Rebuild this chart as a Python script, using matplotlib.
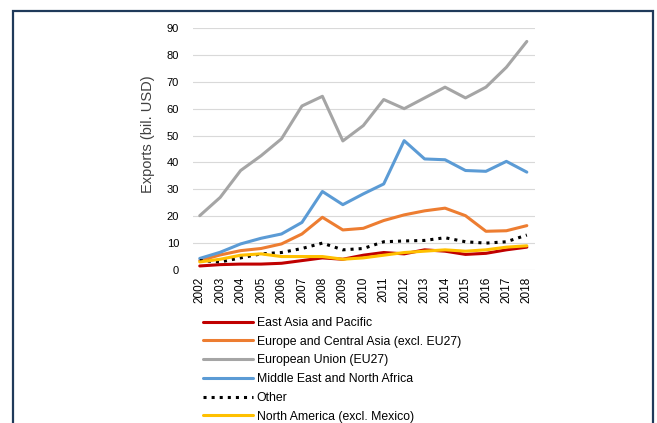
import matplotlib
matplotlib.use("Agg")
import matplotlib.pyplot as plt
from matplotlib.patches import Rectangle

years = [str(y) for y in range(2002, 2019)]

east_asia = [1.5, 2.0, 2.2, 2.2, 2.5, 3.5, 4.5, 4.0, 5.5, 6.5, 6.0, 7.5, 7.0, 5.8, 6.2, 7.5, 8.5]
europe_ca = [3.5, 5.6, 7.2, 8.0, 9.7, 13.4, 19.6, 14.9, 15.5, 18.4, 20.5, 22.0, 23.0, 20.2, 14.4, 14.6, 16.5]
eu27 = [20.2, 27.0, 37.0, 42.5, 48.8, 61.0, 64.6, 48.0, 53.7, 63.4, 60.0, 64.0, 68.0, 64.0, 68.0, 75.4, 85.0]
mena = [4.3, 6.6, 9.7, 11.8, 13.4, 17.7, 29.2, 24.3, 28.3, 32.0, 48.1, 41.3, 41.0, 37.0, 36.7, 40.4, 36.4]
other = [3.5, 3.0, 4.5, 6.0, 6.5, 8.0, 10.0, 7.5, 8.0, 10.5, 10.8, 11.0, 12.0, 10.5, 10.0, 10.5, 13.0]
north_am = [3.0, 4.0, 5.5, 6.0, 5.0, 5.0, 5.0, 4.0, 4.5, 5.5, 6.5, 7.0, 7.5, 7.0, 7.5, 8.5, 9.0]

series = [
    ("East Asia and Pacific", east_asia, "#C00000", "-"),
    ("Europe and Central Asia (excl. EU27)", europe_ca, "#ED7D31", "-"),
    ("European Union (EU27)", eu27, "#A5A5A5", "-"),
    ("Middle East and North Africa", mena, "#5B9BD5", "-"),
    ("Other", other, "black", ":"),
    ("North America (excl. Mexico)", north_am, "#FFC000", "-"),
]

plt.rcParams["font.family"] = ["Liberation Sans", "DejaVu Sans"]

fig = plt.figure(figsize=(6.57, 4.23), dpi=100, facecolor="white")
W, H = 657, 423
ax = fig.add_axes([193 / W, 1 - 270 / H, (535 - 193) / W, (270 - 28) / H])

x = list(range(len(years)))
for name, vals, col, ls in series:
    ax.plot(x, vals, color=col, ls=ls, lw=2.2, label=name,
            solid_capstyle="round", dash_capstyle="butt")

ax.set_ylim(0, 90)
ax.set_xlim(-0.33, 16.4)
ax.set_yticks(range(0, 91, 10))
ax.set_xticks(x)
ax.set_xticklabels(years, rotation=90, fontsize=8.5)
ax.tick_params(axis="y", labelsize=8, length=0, pad=10)
ax.tick_params(axis="x", length=0, pad=5)
ax.grid(axis="y", color="#D9D9D9", lw=0.8)
ax.set_axisbelow(True)
for s in ax.spines.values():
    s.set_visible(False)
ax.set_ylabel("Exports (bil. USD)", fontsize=10.5, color="#404040")
ax.yaxis.set_label_coords(-0.11, 0.56)

# legend runs past the bottom of the page in the source, last row is clipped
ax.legend(loc="upper left", bbox_to_anchor=(203 / W, 1 - 317 / H),
          bbox_transform=fig.transFigure, frameon=False, fontsize=8.8,
          handlelength=4.1, handletextpad=0.3, labelspacing=0.55,
          borderpad=0, borderaxespad=0)

# outer frame of the page, bottom edge cropped off
fig.add_artist(Rectangle((13 / W, -0.1), (653 - 13) / W, 1.1 - 11 / H,
                         transform=fig.transFigure, fill=False,
                         edgecolor="#1F3A5A", lw=1.6))

fig.savefig("out.png", dpi=100, facecolor="white")
